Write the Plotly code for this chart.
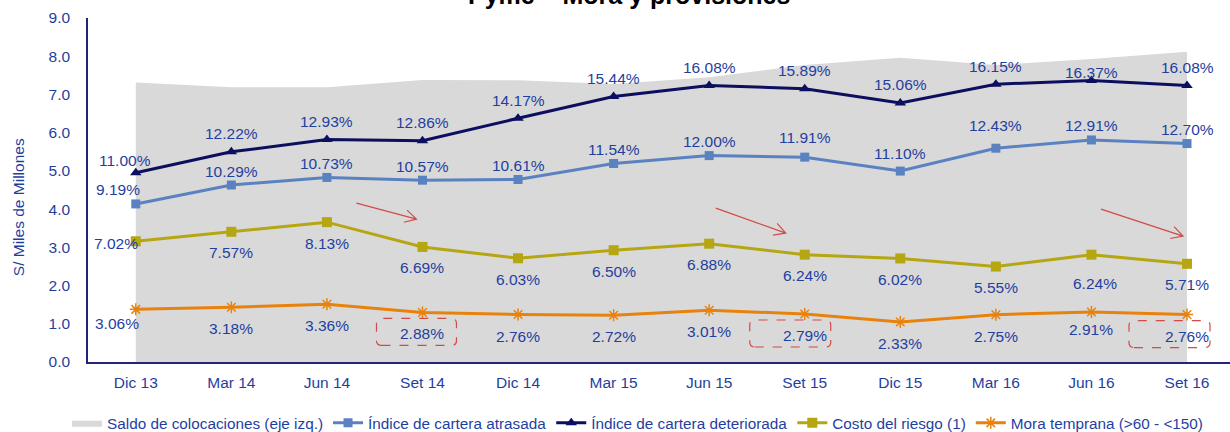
import math
import plotly.graph_objects as go

# ---------------- data ----------------
categories = ["Dic 13", "Mar 14", "Jun 14", "Set 14", "Dic 14", "Mar 15",
              "Jun 15", "Set 15", "Dic 15", "Mar 16", "Jun 16", "Set 16"]
saldo = [7.31, 7.19, 7.19, 7.38, 7.37, 7.27, 7.45, 7.77, 7.96, 7.77, 7.93, 8.12]
atrasada = [9.19, 10.29, 10.73, 10.57, 10.61, 11.54, 12.00, 11.91, 11.10, 12.43, 12.91, 12.70]
deteriorada = [11.00, 12.22, 12.93, 12.86, 14.17, 15.44, 16.08, 15.89, 15.06, 16.15, 16.37, 16.08]
costo = [7.02, 7.57, 8.13, 6.69, 6.03, 6.50, 6.88, 6.24, 6.02, 5.55, 6.24, 5.71]
mora = [3.06, 3.18, 3.36, 2.88, 2.76, 2.72, 3.01, 2.79, 2.33, 2.75, 2.91, 2.76]
y_ticks = [0, 1, 2, 3, 4, 5, 6, 7, 8, 9]
highlight_idx = [3, 7, 11]

# ---------------- style ----------------
FONT = "Liberation Sans, Arial, sans-serif"
FS = 15.5
TXT = "#1F3F9F"
AXIS = "#23237A"
C_GRAY = "#D9D9D9"
C_LIGHT = "#5B82C0"
C_NAVY = "#0B0F5E"
C_OLIVE = "#B5A612"
C_ORANGE = "#E8820C"
C_RED = "#D24A4A"

x = list(range(len(categories)))
fig = go.Figure()

fig.add_trace(go.Scatter(x=x, y=saldo, mode="lines", line=dict(width=0, color=C_GRAY),
                         fill="tozeroy", fillcolor=C_GRAY,
                         name="Saldo de colocaciones (eje izq.)", yaxis="y"))
fig.add_trace(go.Scatter(x=x, y=atrasada, mode="lines+markers", yaxis="y2",
                         line=dict(color=C_LIGHT, width=3),
                         marker=dict(symbol="square", size=9, color=C_LIGHT),
                         name="Índice de cartera atrasada"))
fig.add_trace(go.Scatter(x=x, y=deteriorada, mode="lines+markers", yaxis="y2",
                         line=dict(color=C_NAVY, width=3),
                         marker=dict(symbol="triangle-up", size=10, color=C_NAVY),
                         name="Índice de cartera deteriorada"))
fig.add_trace(go.Scatter(x=x, y=costo, mode="lines+markers", yaxis="y2",
                         line=dict(color=C_OLIVE, width=3),
                         marker=dict(symbol="square", size=10, color=C_OLIVE),
                         name="Costo del riesgo (1)"))
fig.add_trace(go.Scatter(x=x, y=mora, mode="lines+markers", yaxis="y2",
                         line=dict(color=C_ORANGE, width=3),
                         marker=dict(symbol="asterisk-open", size=10,
                                     line=dict(color=C_ORANGE, width=1.5)),
                         name="Mora temprana (>60 - <150)"))

# ---------------- data labels ----------------
label_cfg = [
    (atrasada, 14, {0: (-18, 14), 7: (0, 20), 8: (0, 18), 9: (0, 23)}),
    (deteriorada, 18, {0: (-11, 12), 10: (0, 8)}),
    (costo, -21, {0: (-20, -2), 10: (4, -29)}),
    (mora, -21.5, {0: (-19, -14), 10: (0, -18)}),
]
annotations = []
for series, dy, nudges in label_cfg:
    for i, v in enumerate(series):
        xs, ys = nudges.get(i, (0, dy))
        annotations.append(dict(x=i, y=v, xref="x", yref="y2", text=f"{v:.2f}%",
                                showarrow=False, xshift=xs, yshift=ys,
                                font=dict(family=FONT, size=FS, color=TXT)))

annotations.append(dict(text="S/ Miles de Millones", xref="paper", yref="paper",
                        x=0, y=0.45, xshift=-70, xanchor="center", yanchor="middle",
                        textangle=-90, showarrow=False,
                        font=dict(family=FONT, size=FS, color=TXT)))
annotations.append(dict(text="<b>Pyme – Mora y provisiones</b>", xref="paper",
                        yref="paper", x=0.4733, y=1, xanchor="center", yanchor="bottom",
                        yshift=7, showarrow=False,
                        font=dict(family=FONT, size=25, color="black")))

# ---------------- dashed boxes and arrows ----------------
def rounded_rect(x0, x1, y0, y1, r):
    return (f"M{x0 + r},{y0} L{x1 - r},{y0} Q{x1},{y0} {x1},{y0 + r} "
            f"L{x1},{y1 - r} Q{x1},{y1} {x1 - r},{y1} L{x0 + r},{y1} "
            f"Q{x0},{y1} {x0},{y1 - r} L{x0},{y0 + r} Q{x0},{y0} {x0 + r},{y0} Z")

box_px = {3: (-46, 34), 7: (-55, 26), 11: (-58, 23)}
shapes = []
for i in highlight_idx:
    bx0, bx1 = box_px[i]
    shapes.append(dict(type="path", xref="x", yref="y2", xsizemode="pixel", ysizemode="pixel",
                       xanchor=i, yanchor=mora[i],
                       path=rounded_rect(bx0, bx1, -33, -6, 5),
                       line=dict(color=C_RED, width=1.2, dash="dash")))

arrow_px = {3: ((-66, 6), (-6, -10)), 7: ((-89, 1), (-19, -24)), 11: ((-86, 0), (-4, -27))}
for i in highlight_idx:
    (sx, sy), (ex, ey) = arrow_px[i]
    ang = math.atan2(ey - sy, ex - sx)
    hl = 13
    h1 = (ex - hl * math.cos(ang - 0.5), ey - hl * math.sin(ang - 0.5))
    h2 = (ex - hl * math.cos(ang + 0.5), ey - hl * math.sin(ang + 0.5))
    path = (f"M{sx},{sy} L{ex},{ey} M{h1[0]:.1f},{h1[1]:.1f} L{ex},{ey} "
            f"L{h2[0]:.1f},{h2[1]:.1f}")
    shapes.append(dict(type="path", xref="x", yref="y", xsizemode="pixel", ysizemode="pixel",
                       xanchor=i, yanchor=4.0, path=path,
                       line=dict(color=C_RED, width=1.2)))

fig.update_layout(
    width=1230, height=432,
    margin=dict(l=88, r=0, t=18, b=70),
    paper_bgcolor="white", plot_bgcolor="white",
    font=dict(family=FONT, size=FS, color=TXT),
    xaxis=dict(range=[-0.5, 11.45], tickvals=x, ticktext=categories, showgrid=False,
               zeroline=False, showline=True, linecolor=AXIS, linewidth=1.5, ticks="",
               ticklabelstandoff=6, tickfont=dict(family=FONT, size=FS, color=TXT)),
    yaxis=dict(range=[0, 9], tickvals=y_ticks, tickformat=".1f", showgrid=False,
               zeroline=False, showline=True, linecolor=AXIS, linewidth=1.5, ticks="",
               ticklabelstandoff=13, tickfont=dict(family=FONT, size=FS, color=TXT)),
    yaxis2=dict(range=[0, 20], overlaying="y", visible=False),
    legend=dict(orientation="h", xref="container", yref="container", x=0.0545, y=0.021,
                xanchor="left", yanchor="middle", font=dict(family=FONT, size=15.3, color=TXT),
                itemwidth=30, tracegroupgap=0),
    annotations=annotations,
    shapes=shapes,
    showlegend=True,
)

fig.write_html("out.html", config={"displayModeBar": False},
               post_script="document.body.style.margin='0';")
